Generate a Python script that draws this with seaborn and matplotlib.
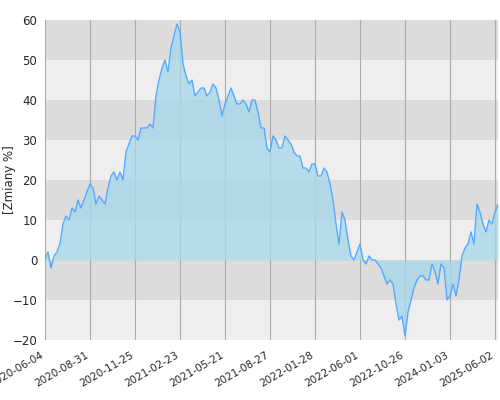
import matplotlib
matplotlib.use("Agg")
import matplotlib.pyplot as plt
import seaborn as sns
import numpy as np

tick_labels = ["2020-06-04","2020-08-31","2020-11-25","2021-02-23","2021-05-21","2021-08-27",
               "2022-01-28","2022-06-01","2022-10-26","2024-01-03","2025-06-02"]
values = [0,2,-2,1,2,4,9,11,10,13,12,15,13,15,17,19,18,14,16,15,14,18,21,22,20,22,20,27,29,31,
          31,30,33,33,33,34,33,41,45,48,50,47,53,56,59,57,49,46,44,45,41,42,43,43,41,42,44,43,40,36,
          39,41,43,41,39,39,40,39,37,40,40,37,33,33,28,27,31,30,28,28,31,30,29,27,26,26,23,23,22,24,
          24,21,21,23,22,19,15,9,4,12,10,5,1,0,2,4,0,-1,1,0,0,-1,-2,-4,-6,-5,-6,-11,-15,-14,
          -19,-13,-10,-7,-5,-4,-4,-5,-5,-1,-3,-6,-1,-2,-10,-9,-6,-9,-5,1,3,4,7,4,14,12,9,7,
          10,9,12,14]

sns.set_style("white")
fig = plt.figure(figsize=(5, 4), dpi=100)
ax = fig.add_axes([0.09, 0.15, 0.906, 0.80])
x = np.arange(len(values))
for lo in range(-20, 60, 10):
    ax.axhspan(lo, lo + 10, color="#dcdcdc" if (lo // 10) % 2 == 1 else "#eeeeee", zorder=0, lw=0)
ax.fill_between(x, values, 0, color="#a8d8ea", alpha=0.8, zorder=2, lw=0)
sns.lineplot(x=x, y=values, ax=ax, color="#55aaff", lw=1, zorder=3)
ticks = np.arange(0, len(values), 15)
ax.set_xticks(ticks)
ax.set_xticklabels(tick_labels, rotation=30, ha="right", fontsize=7.5)
for t in ticks:
    ax.axvline(t, color="#aaaaaa", lw=0.8, zorder=1)
ax.set_xlim(0, len(values) - 1)
ax.set_ylim(-20, 60)
ax.set_yticks(range(-20, 61, 10))
ax.tick_params(axis="y", labelsize=8.5, pad=2)
ax.set_ylabel("[Zmiany %]", fontsize=8.5)
ax.yaxis.set_label_coords(-0.065, 0.5)
for s in ax.spines.values():
    s.set_visible(False)
fig.savefig("out.png")
